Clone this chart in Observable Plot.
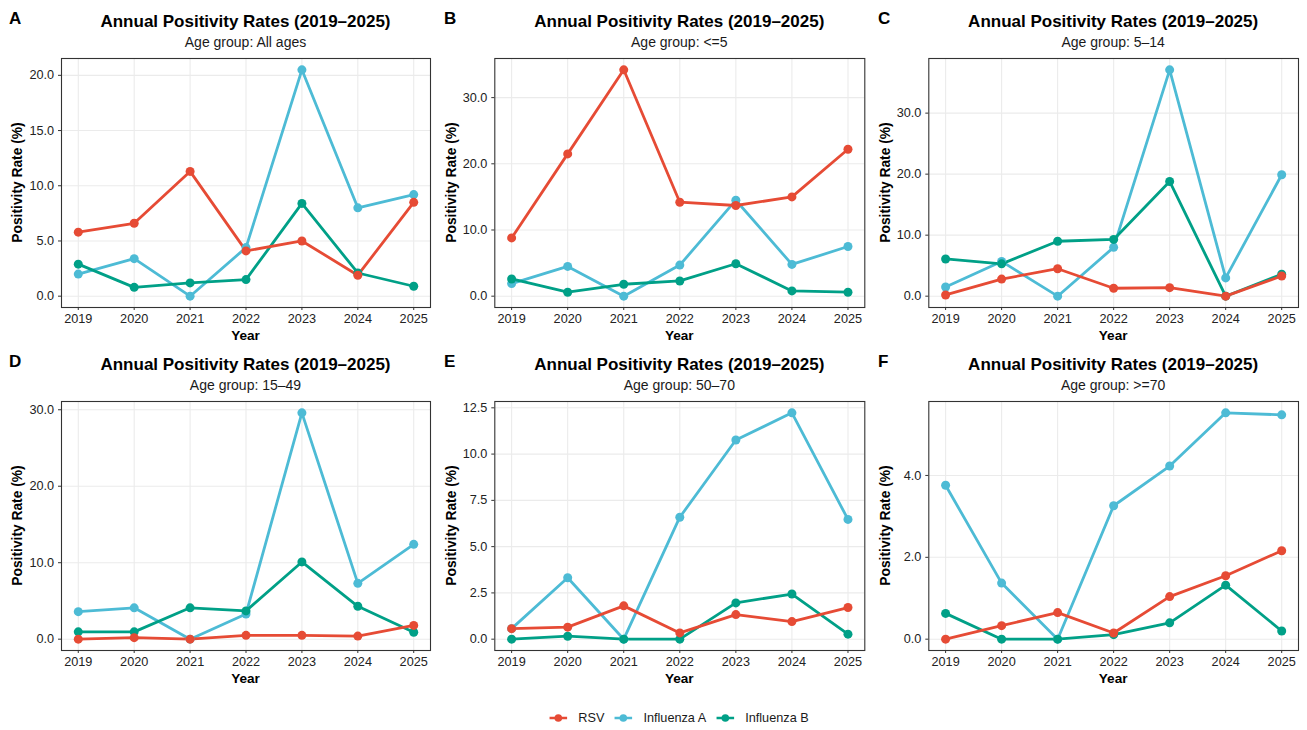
<!DOCTYPE html>
<html>
<head>
<meta charset="utf-8">
<script src="https://cdn.jsdelivr.net/npm/d3@7"></script>
<script src="https://cdn.jsdelivr.net/npm/@observablehq/plot@0.6"></script>
<style>
  html, body { margin: 0; padding: 0; background: #fff; }
  body { font-family: "Liberation Sans", Arial, Helvetica, sans-serif; }
  #root { position: relative; width: 1307px; height: 730px; overflow: hidden; background: #fff; }
  .panel { position: absolute; }
  #overlay { position: absolute; left: 0; top: 0; pointer-events: none; }
  #legend { position: absolute; top: 711px; left: 679px; transform: translateX(-50%);
            display: flex; align-items: center; font-size: 12.7px; color: #1a1a1a; white-space: nowrap; }
  #legend .item { display: flex; align-items: center; margin-right: 10px; }
  #legend .item:last-child { margin-right: 0; }
  #legend svg { margin-right: 11px; }
</style>
</head>
<body>
<div id="root"></div>
<script>
// ---- data ----
const years = [2019, 2020, 2021, 2022, 2023, 2024, 2025];
const panelLetters = ["A", "B", "C", "D", "E", "F"];
const ageGroups = ["All ages", "<=5", "5–14", "15–49", "50–70", ">=70"];
const seriesNames = ["RSV", "Influenza A", "Influenza B"];
const seriesColors = ["#E64B35", "#4DBBD5", "#00A087"];
const chartTitle = "Annual Positivity Rates (2019–2025)";
const xTitle = "Year";
const yTitle = "Positivity Rate (%)";

const rsv = [
  [5.8, 6.6, 11.3, 4.1, 5.0, 1.9, 8.5],
  [8.8, 21.5, 34.2, 14.2, 13.7, 15.0, 22.2],
  [0.2, 2.8, 4.5, 1.3, 1.4, 0.0, 3.3],
  [0.0, 0.2, 0.0, 0.5, 0.5, 0.4, 1.8],
  [0.57, 0.65, 1.8, 0.34, 1.33, 0.95, 1.71],
  [0.0, 0.33, 0.65, 0.15, 1.04, 1.55, 2.16]
];
const fluA = [
  [2.0, 3.4, 0.0, 4.4, 20.5, 8.0, 9.2],
  [1.9, 4.5, 0.0, 4.7, 14.5, 4.8, 7.5],
  [1.5, 5.7, 0.0, 8.0, 37.1, 3.0, 19.9],
  [3.6, 4.1, 0.0, 3.3, 29.6, 7.3, 12.4],
  [0.57, 3.32, 0.0, 6.59, 10.76, 12.23, 6.47],
  [3.76, 1.37, 0.0, 3.26, 4.23, 5.53, 5.48]
];
const fluB = [
  [2.9, 0.8, 1.2, 1.5, 8.4, 2.1, 0.9],
  [2.6, 0.6, 1.8, 2.3, 4.9, 0.8, 0.6],
  [6.1, 5.3, 9.0, 9.3, 18.8, 0.0, 3.6],
  [0.96, 0.96, 4.1, 3.7, 10.1, 4.3, 0.9],
  [0.0, 0.16, 0.0, 0.0, 1.96, 2.44, 0.27],
  [0.63, 0.0, 0.0, 0.11, 0.40, 1.32, 0.20]
];
const yTicks = [
  [0, 5, 10, 15, 20],
  [0, 10, 20, 30],
  [0, 10, 20, 30],
  [0, 10, 20, 30],
  [0, 2.5, 5, 7.5, 10, 12.5],
  [0, 2, 4]
];

// ---- layout ----
const FONT = '"Liberation Sans", Arial, Helvetica, sans-serif';
const colX = [0, 436, 872];
const colW = [436, 436, 435];
const colML = [61, 58.3, 56.3];
const colMR = [6, 7.7, 9];
const letterX = [9, 444, 878];
const rowY = [0, 343];
const svgH = 343, MT = 58, MB = 36;

const root = document.getElementById("root");
const overlay = d3.select(root).append("svg").attr("id", "overlay")
  .attr("width", 1307).attr("height", 730)
  .attr("font-family", FONT);

for (let i = 0; i < 6; i++) {
  const col = i % 3, row = Math.floor(i / 3);
  // draw order: Influenza A, Influenza B, RSV (RSV on top)
  const data = [];
  const order = [[1, fluA], [2, fluB], [0, rsv]];
  for (const [si, arr] of order) {
    years.forEach((yr, k) => data.push({year: yr, value: arr[i][k], series: seriesNames[si]}));
  }
  const vals = data.map(d => d.value);
  const lo = Math.min(0, d3.min(vals)), hi = d3.max(vals);
  const pad = (hi - lo) * 0.05;
  const xPad = (d3.max(years) - d3.min(years)) * 0.05;

  const plot = Plot.plot({
    width: colW[col], height: svgH,
    marginTop: MT, marginBottom: MB, marginLeft: colML[col], marginRight: colMR[col],
    style: {fontFamily: FONT, fontSize: "12.7px", color: "#222", background: "transparent", overflow: "visible"},
    x: {domain: [d3.min(years) - xPad, d3.max(years) + xPad]},
    y: {domain: [lo - pad, hi + pad]},
    color: {domain: seriesNames, range: seriesColors},
    marks: [
      Plot.gridX(years, {stroke: "#EBEBEB", strokeOpacity: 1, strokeWidth: 1.1}),
      Plot.gridY(yTicks[i], {stroke: "#EBEBEB", strokeOpacity: 1, strokeWidth: 1.1}),
      Plot.axisX(years, {tickFormat: d => String(d), tickSize: 3, tickPadding: 3.5, stroke: "#333", fill: "#222", fontSize: 12.7, label: null}),
      Plot.axisY(yTicks[i], {tickFormat: d => d.toFixed(1), tickSize: 3, tickPadding: 4.4, stroke: "#333", fill: "#222", fontSize: 12.7, label: null}),
      Plot.line(data, {x: "year", y: "value", stroke: "series", z: "series", strokeWidth: 2.8, strokeLinejoin: "round"}),
      Plot.dot(data, {x: "year", y: "value", fill: "series", r: 4.5}),
      Plot.frame({stroke: "#333", strokeWidth: 1.1})
    ]
  });
  const holder = document.createElement("div");
  holder.className = "panel";
  holder.style.left = colX[col] + "px";
  holder.style.top = rowY[row] + "px";
  holder.appendChild(plot);
  root.appendChild(holder);

  const fL = colX[col] + colML[col];
  const fR = colX[col] + colW[col] - colMR[col];
  const fT = rowY[row] + MT;
  const fB = rowY[row] + svgH - MB;
  const cx = (fL + fR) / 2, cy = (fT + fB) / 2;
  const oy = rowY[row] + (row === 1 ? 0.3 : 0);

  overlay.append("text").attr("x", letterX[col]).attr("y", oy + 24)
    .attr("font-size", 17).attr("font-weight", "bold").attr("fill", "#000").text(panelLetters[i]);
  overlay.append("text").attr("x", cx).attr("y", oy + 26.6).attr("text-anchor", "middle")
    .attr("font-size", 17).attr("font-weight", "bold").attr("fill", "#000").text(chartTitle);
  overlay.append("text").attr("x", cx).attr("y", oy + 46.6).attr("text-anchor", "middle")
    .attr("font-size", 14).attr("fill", "#1a1a1a").text("Age group: " + ageGroups[i]);
  overlay.append("text").attr("x", cx).attr("y", oy + 340).attr("text-anchor", "middle")
    .attr("font-size", 13.6).attr("font-weight", "bold").attr("fill", "#000").text(xTitle);
  overlay.append("text").attr("transform", `translate(${fL - 38.7},${cy}) rotate(-90)`)
    .attr("text-anchor", "middle")
    .attr("font-size", 13.8).attr("font-weight", "bold").attr("fill", "#000").text(yTitle);
}

// ---- legend ----
const legend = d3.select(root).append("div").attr("id", "legend");
seriesNames.forEach((name, k) => {
  const item = legend.append("div").attr("class", "item");
  const s = item.append("svg").attr("width", 18).attr("height", 12);
  s.append("line").attr("x1", 0).attr("x2", 18).attr("y1", 6).attr("y2", 6)
    .attr("stroke", seriesColors[k]).attr("stroke-width", 2.6);
  s.append("circle").attr("cx", 9).attr("cy", 6).attr("r", 3.8).attr("fill", seriesColors[k]);
  item.append("span").text(name);
});
</script>
</body>
</html>
